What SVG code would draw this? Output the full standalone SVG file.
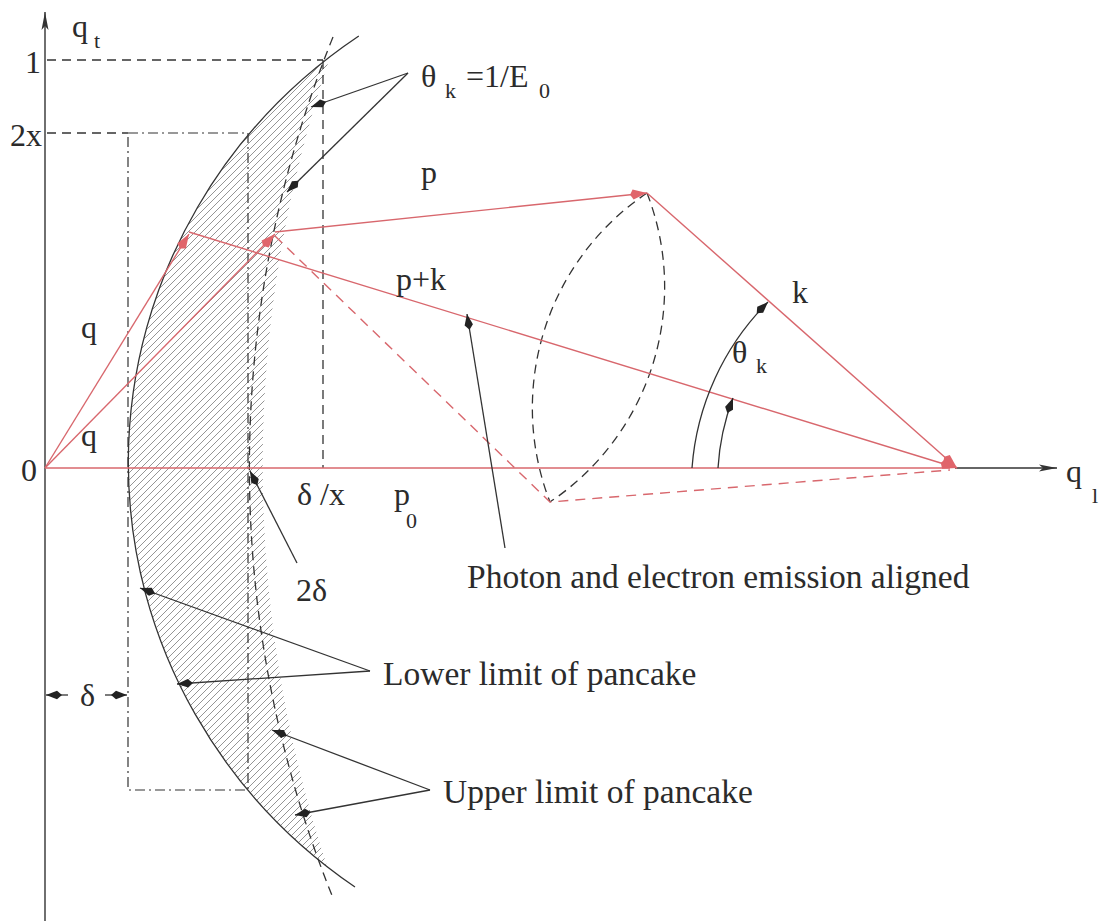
<svg xmlns="http://www.w3.org/2000/svg" width="1103" height="921" viewBox="0 0 1103 921">
<style>
.t{font-family:"Liberation Serif","Times New Roman",serif;font-size:32px;fill:#2b2b2b}
.s{font-size:22px}
.l{font-size:33.5px}
.ax{stroke:#333;stroke-width:1.4;fill:none}
.blk{stroke:#333;stroke-width:1.3;fill:none}
.dash{stroke:#333;stroke-width:1.3;fill:none;stroke-dasharray:9 6}
.dd{stroke:#333;stroke-width:1.2;fill:none;stroke-dasharray:10 4 2 4}
.red{stroke:#d8676d;stroke-width:1.4;fill:none}
.redd{stroke:#d8676d;stroke-width:1.4;fill:none;stroke-dasharray:10 7}
</style>
<defs>
<pattern id="hatch" width="7" height="7" patternUnits="userSpaceOnUse">
<path d="M-2,2 L2,-2 M0,7 L7,0 M5,9 L9,5" stroke="#7a7a7a" stroke-width="0.8"/>
</pattern>
<marker id="ab" markerWidth="20" markerHeight="12" refX="16" refY="6" orient="auto" markerUnits="userSpaceOnUse">
<path d="M0,6 L5,1.8 L16,6 L5,10.2 Z" fill="#222"/>
</marker>
<marker id="ar" markerWidth="20" markerHeight="14" refX="17" refY="7" orient="auto" markerUnits="userSpaceOnUse">
<path d="M0,7 L3,2 L17,7 L3,12 Z" fill="#e0656b"/>
</marker>
<marker id="ax" markerWidth="20" markerHeight="10" refX="18" refY="5" orient="auto" markerUnits="userSpaceOnUse">
<path d="M0,1.5 L18,5 L0,8.5 L4,5 Z" fill="#333"/>
</marker>
</defs>

<g id="hatched-region">
<path d="M330,57 A532,518 0 0 0 327,866 A1276,1276 0 0 1 330,57 Z" fill="url(#hatch)" stroke="none"/>
</g>

<g id="axes">
<line class="ax" x1="45" y1="921" x2="45" y2="12" marker-end="url(#ax)"/>
<line class="ax" x1="955" y1="468" x2="1057" y2="468" marker-end="url(#ax)"/>
</g>

<g id="guides">
<path class="dash" d="M47,60 L323,60 M323,60 L323,468 M47,133 L128,133"/>
<path class="dd" d="M128,133 L248,133 L248,790 L128,790 Z"/>
</g>

<g id="lower-limit">
<path class="blk" d="M358.8,36 A532,518 0 0 0 355,887"/>
</g>
<g id="upper-limit">
<path class="dash" d="M333,37 A1150,1150 0 0 0 333,898"/>
</g>

<g id="lens">
<path class="dash" d="M647,193 A259,259 0 0 0 550,502"/>
<path class="dash" d="M647,193 A259,259 0 0 1 550,502"/>
</g>

<g id="connectors">
<line class="red" x1="45" y1="468" x2="950" y2="468"/>
<line class="red" x1="45" y1="468" x2="189" y2="234" marker-end="url(#ar)"/>
<line class="red" x1="45" y1="468" x2="275" y2="234" marker-end="url(#ar)"/>
<line class="red" x1="275" y1="232" x2="647" y2="193" marker-end="url(#ar)"/>
<line class="red" x1="647" y1="193" x2="957" y2="468" marker-end="url(#ar)"/>
<line class="red" x1="189" y1="232" x2="957" y2="468" marker-end="url(#ar)"/>
<path class="redd" d="M275,236 L550,502 L950,470"/>

<path class="blk" d="M408,73 L311,107" marker-end="url(#ab)"/>
<path class="blk" d="M408,73 L287,192" marker-end="url(#ab)"/>
<path class="blk" d="M505,548 L467,314" marker-end="url(#ab)"/>
<path class="blk" d="M297,563 L250,471" marker-end="url(#ab)"/>
<path class="blk" d="M370,671 L140,588" marker-end="url(#ab)"/>
<path class="blk" d="M370,671 L177,684" marker-end="url(#ab)"/>
<path class="blk" d="M430,790 L272,730" marker-end="url(#ab)"/>
<path class="blk" d="M430,790 L295,815" marker-end="url(#ab)"/>
<path class="blk" d="M68,695 L46,695" marker-end="url(#ab)"/>
<path class="blk" d="M105,695 L127,695" marker-end="url(#ab)"/>
<path class="blk" d="M692,468 A262,262 0 0 1 768,302" marker-end="url(#ab)"/>
<path class="blk" d="M718,468 A236,236 0 0 1 733,398" marker-end="url(#ab)"/>
</g>

<g id="labels">
<text class="t" x="72" y="37">q</text><text class="t s" x="94" y="48">t</text>
<text class="t" x="25" y="73">1</text>
<text class="t" x="10" y="146">2x</text>
<text class="t" x="21" y="481">0</text>
<text class="t" x="81" y="338">q</text>
<text class="t" x="81" y="446">q</text>
<text class="t" x="421" y="183">p</text>
<text class="t" x="396" y="290">p+k</text>
<text class="t" x="421" y="87">θ</text><text class="t s" x="445" y="98">k</text><text class="t" x="466" y="87">=1/E</text><text class="t s" x="539" y="98">0</text>
<text class="t" x="792" y="303">k</text>
<text class="t" x="732" y="363">θ</text><text class="t s" x="756" y="373">k</text>
<text class="t" x="1066" y="482">q</text><text class="t s" x="1092" y="503">l</text>
<text class="t" x="297" y="505">δ /x</text>
<text class="t" x="394" y="505">p</text><text class="t s" x="406" y="528">0</text>
<text class="t" x="296" y="601">2δ</text>
<text class="t" x="80" y="706">δ</text>
<text class="t l" x="467" y="588">Photon and electron emission aligned</text>
<text class="t l" x="383" y="685">Lower limit of pancake</text>
<text class="t l" x="443" y="803">Upper limit of pancake</text>
</g>
</svg>
